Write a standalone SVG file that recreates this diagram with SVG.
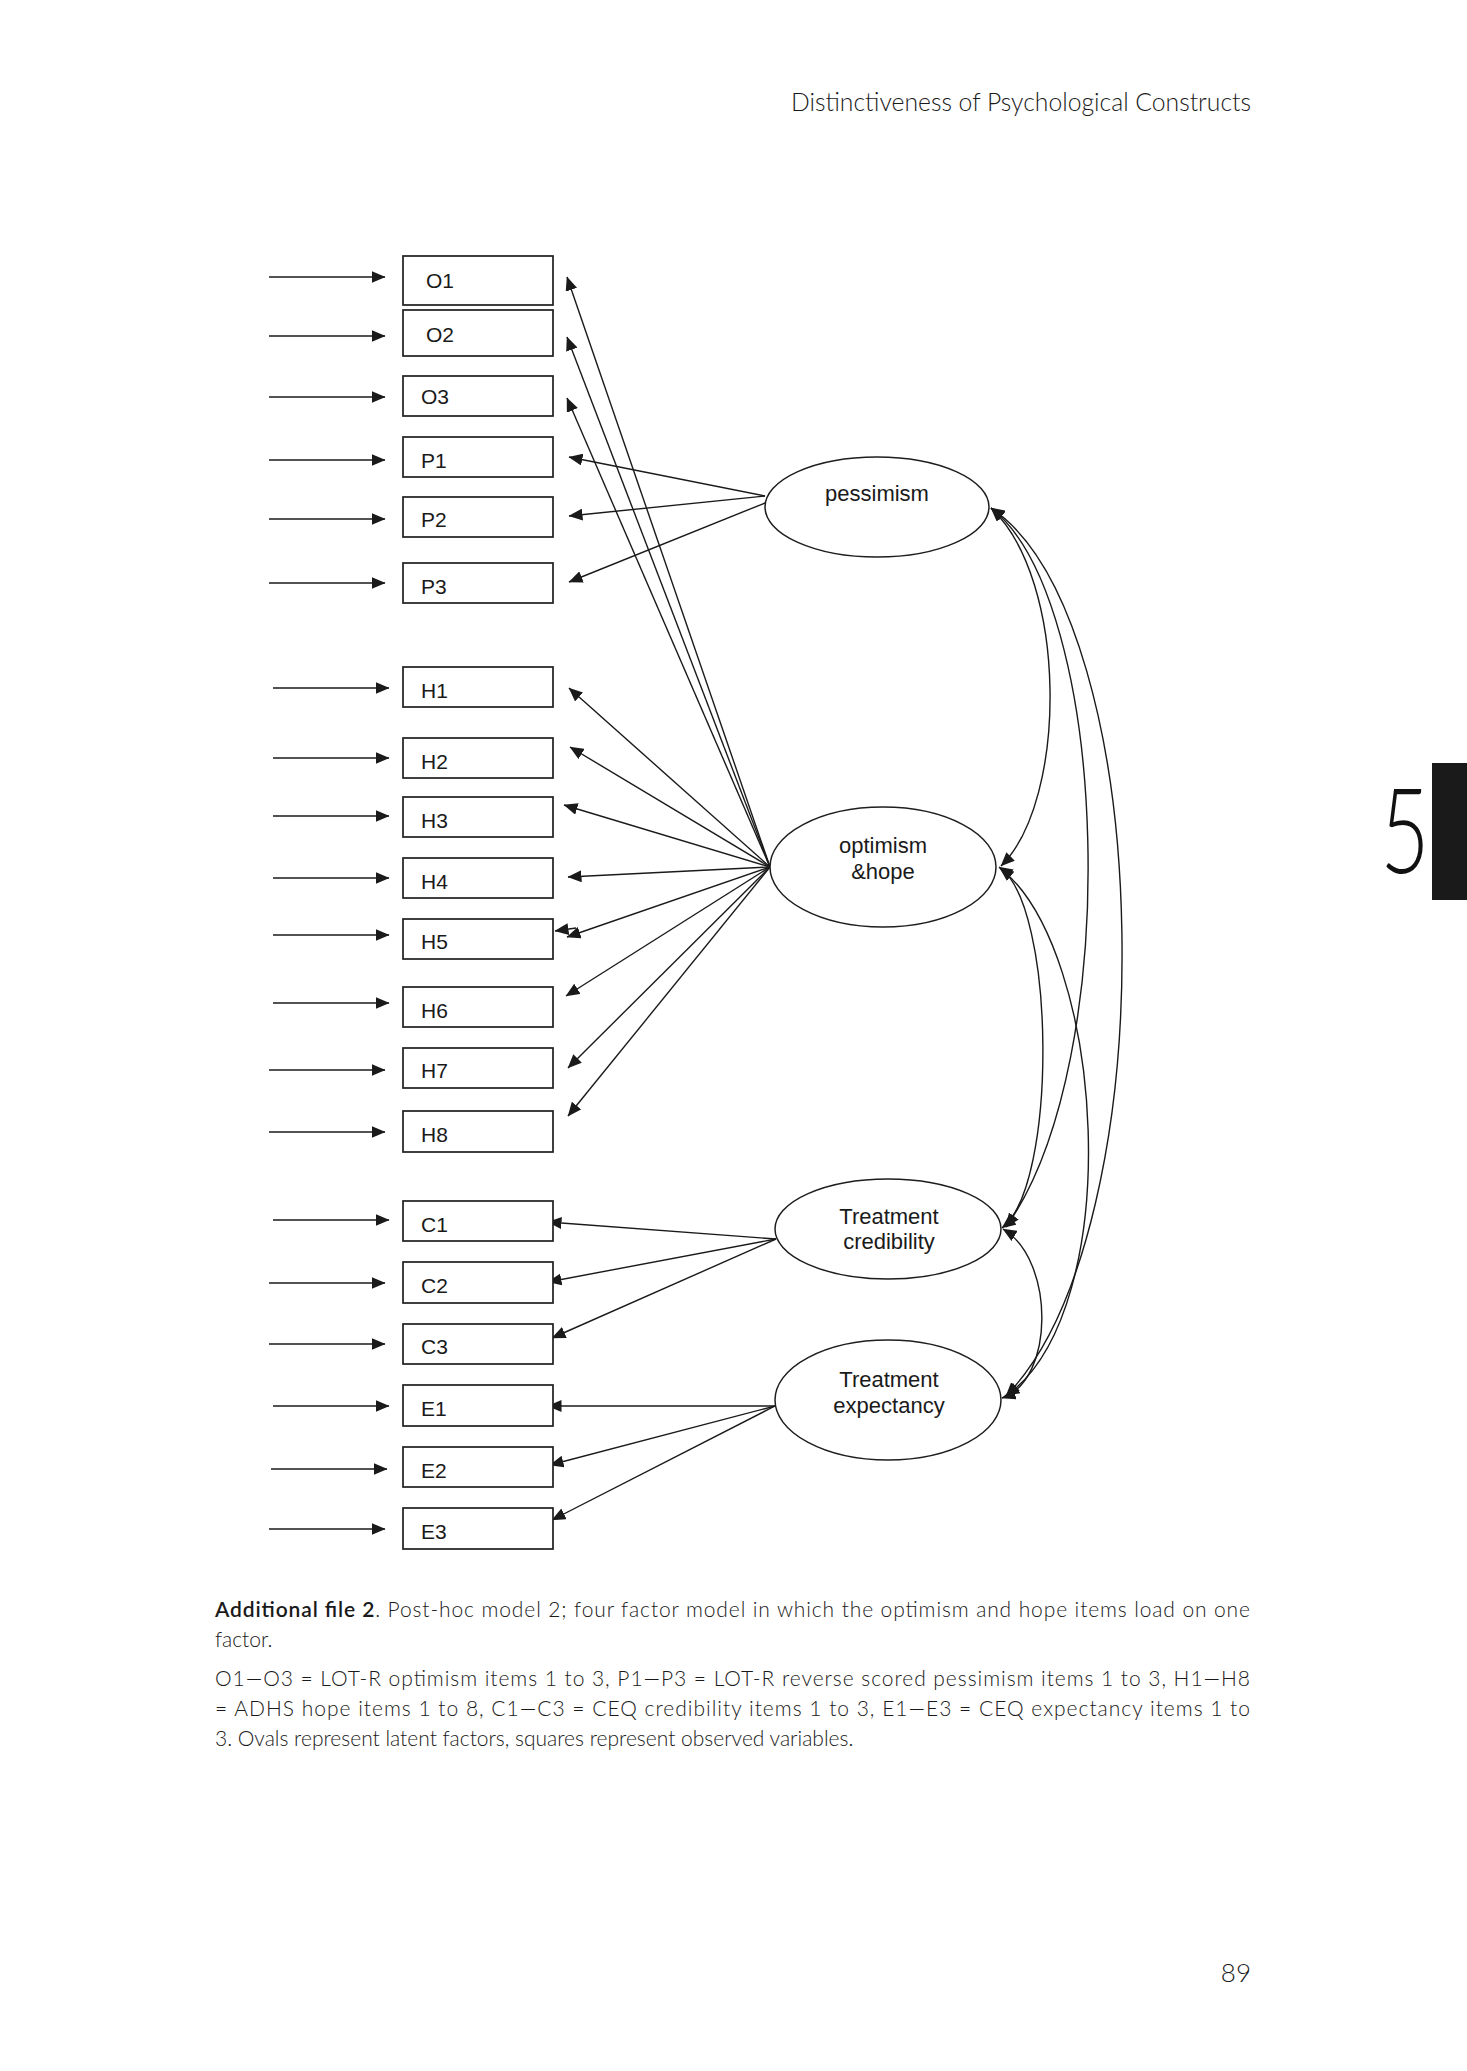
<svg xmlns="http://www.w3.org/2000/svg" width="1467" height="2071" viewBox="0 0 1467 2071">
<defs>
<style>
.box{fill:#fff;stroke:#1e1e1e;stroke-width:1.7}
.lbl{font-family:"Liberation Sans",Arial,sans-serif;font-size:21px;fill:#1a1a1a}
.ell{fill:#fff;stroke:#1e1e1e;stroke-width:1.5}
.et{font-family:"Liberation Sans",Arial,sans-serif;font-size:22px;fill:#1a1a1a;text-anchor:middle}
.arr{stroke:#1a1a1a;stroke-width:1.4;fill:none;marker-end:url(#ah)}
.cov{stroke:#1a1a1a;stroke-width:1.4;fill:none;marker-start:url(#ah);marker-end:url(#ah)}
.page{font-family:Lato,"Open Sans","Liberation Sans",sans-serif;font-weight:300;fill:#1a1a1a}
</style>
<marker id="ah" viewBox="0 0 14 12" refX="13.5" refY="6" markerWidth="14" markerHeight="12" markerUnits="userSpaceOnUse" orient="auto-start-reverse">
<path d="M0,0 L14,6 L0,12 z" fill="#1a1a1a"/>
</marker>
</defs>
<rect width="1467" height="2071" fill="#fff"/>

<text class="page" x="1251" y="111" font-size="26" text-anchor="end" textLength="460" lengthAdjust="spacingAndGlyphs">Distinctiveness of Psychological Constructs</text>
<rect x="1432" y="763" width="35" height="137" fill="#1a1a1a"/>
<text transform="translate(1405,873) scale(0.72,1)" font-family="Lato,'Open Sans',sans-serif" font-weight="300" font-size="118" text-anchor="middle" fill="#111">5</text>

<g id="connectors">
<line class="arr" x1="269" y1="277" x2="385" y2="277"/>
<line class="arr" x1="269" y1="336" x2="385" y2="336"/>
<line class="arr" x1="269" y1="397" x2="385" y2="397"/>
<line class="arr" x1="269" y1="460" x2="385" y2="460"/>
<line class="arr" x1="269" y1="519" x2="385" y2="519"/>
<line class="arr" x1="269" y1="583" x2="385" y2="583"/>
<line class="arr" x1="273" y1="688" x2="389" y2="688"/>
<line class="arr" x1="273" y1="758" x2="389" y2="758"/>
<line class="arr" x1="273" y1="816" x2="389" y2="816"/>
<line class="arr" x1="273" y1="878" x2="389" y2="878"/>
<line class="arr" x1="273" y1="935" x2="389" y2="935"/>
<line class="arr" x1="273" y1="1003" x2="389" y2="1003"/>
<line class="arr" x1="269" y1="1070" x2="385" y2="1070"/>
<line class="arr" x1="269" y1="1132" x2="385" y2="1132"/>
<line class="arr" x1="273" y1="1220" x2="389" y2="1220"/>
<line class="arr" x1="269" y1="1283" x2="385" y2="1283"/>
<line class="arr" x1="269" y1="1344" x2="385" y2="1344"/>
<line class="arr" x1="273" y1="1406" x2="389" y2="1406"/>
<line class="arr" x1="271" y1="1469" x2="387" y2="1469"/>
<line class="arr" x1="269" y1="1529" x2="385" y2="1529"/>
<line class="arr" x1="765" y1="496" x2="569" y2="457"/>
<line class="arr" x1="765" y1="496" x2="569" y2="516"/>
<line class="arr" x1="765" y1="503" x2="569" y2="582"/>
<line class="arr" x1="770" y1="867" x2="567" y2="277"/>
<line class="arr" x1="770" y1="867" x2="567" y2="337"/>
<line class="arr" x1="770" y1="867" x2="567" y2="398"/>
<line class="arr" x1="770" y1="867" x2="569" y2="688"/>
<line class="arr" x1="770" y1="867" x2="570" y2="747"/>
<line class="arr" x1="770" y1="867" x2="564" y2="805"/>
<line class="arr" x1="770" y1="867" x2="568" y2="877"/>
<line class="arr" x1="770" y1="867" x2="567" y2="937"/>
<line class="arr" x1="576" y1="928" x2="555" y2="931"/>
<line class="arr" x1="770" y1="867" x2="566" y2="996"/>
<line class="arr" x1="770" y1="867" x2="568" y2="1068"/>
<line class="arr" x1="770" y1="867" x2="568" y2="1116"/>
<line class="arr" x1="776" y1="1239" x2="548" y2="1222"/>
<line class="arr" x1="776" y1="1239" x2="548" y2="1282"/>
<line class="arr" x1="776" y1="1239" x2="552" y2="1338"/>
<line class="arr" x1="775" y1="1406" x2="548" y2="1406"/>
<line class="arr" x1="775" y1="1406" x2="550" y2="1465"/>
<line class="arr" x1="775" y1="1406" x2="552" y2="1520"/>
<path class="cov" d="M991,508 C1068,580 1068,800 1001,866"/>
<path class="cov" d="M991,508 C1110,600 1125,1060 1006,1227"/>
<path class="cov" d="M991,508 C1158,620 1168,1230 1006,1396"/>
<path class="cov" d="M999,867 C1056,905 1058,1185 1002,1228"/>
<path class="cov" d="M1000,868 C1105,950 1128,1309 1006,1396"/>
<path class="cov" d="M1003,1229 C1055,1260 1055,1380 1002,1398"/>
</g>

<g id="O1"><rect class="box" x="403" y="256" width="150" height="49"/><text class="lbl" x="426" y="288">O1</text></g>
<g id="O2"><rect class="box" x="403" y="310" width="150" height="46"/><text class="lbl" x="426" y="342">O2</text></g>
<g id="O3"><rect class="box" x="403" y="376" width="150" height="40"/><text class="lbl" x="421" y="404">O3</text></g>
<g id="P1"><rect class="box" x="403" y="437" width="150" height="40"/><text class="lbl" x="421" y="468">P1</text></g>
<g id="P2"><rect class="box" x="403" y="497" width="150" height="40"/><text class="lbl" x="421" y="527">P2</text></g>
<g id="P3"><rect class="box" x="403" y="563" width="150" height="40"/><text class="lbl" x="421" y="594">P3</text></g>
<g id="H1"><rect class="box" x="403" y="667" width="150" height="40"/><text class="lbl" x="421" y="698">H1</text></g>
<g id="H2"><rect class="box" x="403" y="738" width="150" height="40"/><text class="lbl" x="421" y="769">H2</text></g>
<g id="H3"><rect class="box" x="403" y="797" width="150" height="40"/><text class="lbl" x="421" y="828">H3</text></g>
<g id="H4"><rect class="box" x="403" y="858" width="150" height="40"/><text class="lbl" x="421" y="889">H4</text></g>
<g id="H5"><rect class="box" x="403" y="919" width="150" height="40"/><text class="lbl" x="421" y="949">H5</text></g>
<g id="H6"><rect class="box" x="403" y="987" width="150" height="40"/><text class="lbl" x="421" y="1018">H6</text></g>
<g id="H7"><rect class="box" x="403" y="1048" width="150" height="40"/><text class="lbl" x="421" y="1078">H7</text></g>
<g id="H8"><rect class="box" x="403" y="1111" width="150" height="41"/><text class="lbl" x="421" y="1142">H8</text></g>
<g id="C1"><rect class="box" x="403" y="1201" width="150" height="40"/><text class="lbl" x="421" y="1232">C1</text></g>
<g id="C2"><rect class="box" x="403" y="1262" width="150" height="41"/><text class="lbl" x="421" y="1293">C2</text></g>
<g id="C3"><rect class="box" x="403" y="1324" width="150" height="40"/><text class="lbl" x="421" y="1354">C3</text></g>
<g id="E1"><rect class="box" x="403" y="1385" width="150" height="41"/><text class="lbl" x="421" y="1416">E1</text></g>
<g id="E2"><rect class="box" x="403" y="1447" width="150" height="40"/><text class="lbl" x="421" y="1478">E2</text></g>
<g id="E3"><rect class="box" x="403" y="1508" width="150" height="41"/><text class="lbl" x="421" y="1539">E3</text></g>

<g id="pessimism"><ellipse class="ell" cx="877" cy="507" rx="112" ry="50"/><text class="et" x="877" y="501">pessimism</text></g>
<g id="optimism_hope"><ellipse class="ell" cx="883" cy="867" rx="113" ry="60"/><text class="et" x="883" y="853">optimism</text><text class="et" x="883" y="879">&amp;hope</text></g>
<g id="treatment_credibility"><ellipse class="ell" cx="888" cy="1229" rx="113" ry="50"/><text class="et" x="889" y="1224">Treatment</text><text class="et" x="889" y="1249">credibility</text></g>
<g id="treatment_expectancy"><ellipse class="ell" cx="888" cy="1400" rx="113" ry="60"/><text class="et" x="889" y="1387">Treatment</text><text class="et" x="889" y="1413">expectancy</text></g>

<g id="caption" class="page" font-size="21">
<text x="215" y="1617" textLength="1035" lengthAdjust="spacing"><tspan font-weight="600">Additional file 2</tspan>. Post-hoc model 2; four factor model in which the optimism and hope items load on one</text>
<text x="215" y="1647">factor.</text>
<text x="215" y="1686" textLength="1035" lengthAdjust="spacing">O1—O3 = LOT-R optimism items 1 to 3, P1—P3 = LOT-R reverse scored pessimism items 1 to 3, H1—H8</text>
<text x="215" y="1716" textLength="1035" lengthAdjust="spacing">= ADHS hope items 1 to 8, C1—C3 = CEQ credibility items 1 to 3, E1—E3 = CEQ expectancy items 1 to</text>
<text x="215" y="1746">3. Ovals represent latent factors, squares represent observed variables.</text>
</g>
<text class="page" x="1251" y="1982" font-size="26" text-anchor="end">89</text>
</svg>
